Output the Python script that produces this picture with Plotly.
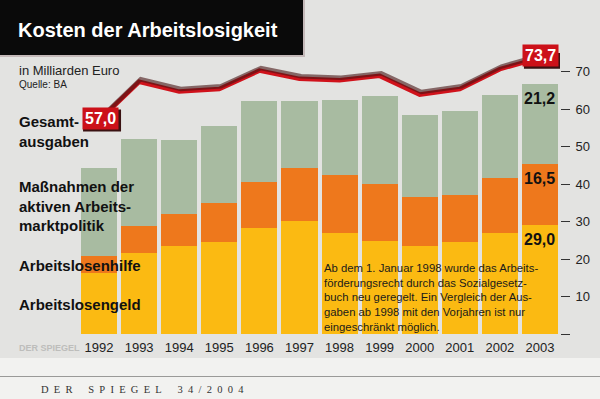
import plotly.graph_objects as go

# ---------------- data ----------------
years = [1992, 1993, 1994, 1995, 1996, 1997, 1998, 1999, 2000, 2001, 2002, 2003]
arbeitslosengeld = [16.3, 21.6, 23.4, 24.5, 28.3, 30.1, 27.0, 24.7, 23.6, 24.6, 27.0, 29.0]
arbeitslosenhilfe = [4.4, 7.1, 8.7, 10.5, 12.4, 14.2, 15.4, 15.4, 13.0, 12.6, 14.7, 16.5]
aktive_politik = [23.6, 23.3, 19.6, 20.4, 21.4, 18.0, 20.1, 23.3, 21.9, 22.2, 22.2, 21.2]
gesamtausgaben = [57.0, 67.3, 64.7, 65.4, 70.3, 68.1, 67.7, 68.9, 63.9, 65.4, 70.7, 73.7]
y_tick_vals = [0, 10, 20, 30, 40, 50, 60, 70]
y_tick_text = ["", "10", "20", "30", "40", "50", "60", "70"]

# ---------------- layout helpers ----------------
W, H = 600, 399
L, R, T, B = 79, 40, 53, 65


def px(x):
    return (x - L) / (W - L - R)


def py(y):
    return (H - B - y) / (H - T - B)


def de(v):
    return f"{v:.1f}".replace(".", ",")


YELLOW = "#FBBA12"
ORANGE = "#EE781C"
GREEN = "#A8BBA1"
RED = "#D0121B"
BG = "#E3E3E1"
SANS = "Liberation Sans, Arial, sans-serif"

fig = go.Figure()
fig.add_bar(x=years, y=arbeitslosengeld, marker=dict(color=YELLOW, line=dict(width=0)),
            name="Arbeitslosengeld")
fig.add_bar(x=years, y=arbeitslosenhilfe, marker=dict(color=ORANGE, line=dict(width=0)),
            name="Arbeitslosenhilfe")
fig.add_bar(x=years, y=aktive_politik, marker=dict(color=GREEN, line=dict(width=0)),
            name="Maßnahmen der aktiven Arbeitsmarktpolitik")
# shadow of the total line (drawn on slightly shifted overlay axes)
fig.add_scatter(x=years, y=gesamtausgaben, xaxis="x2", yaxis="y2", mode="lines",
                line=dict(color="rgba(70,20,20,0.6)", width=4.5), hoverinfo="skip")
fig.add_scatter(x=years, y=gesamtausgaben, mode="lines",
                line=dict(color=RED, width=4.5), name="Gesamtausgaben")

ann = []
shapes = []
# red value boxes on the total line (shadow as pixel-sized shape anchored at the point)
for i in (0, len(years) - 1):
    shapes.append(dict(type="rect", xref="x", yref="y", xsizemode="pixel", ysizemode="pixel",
                       xanchor=years[i], yanchor=gesamtausgaben[i],
                       x0=-16, x1=22, y0=-11, y1=11,
                       fillcolor="#3a1212", line=dict(width=0), layer="above"))
    ann.append(dict(x=years[i], y=gesamtausgaben[i], text=f"<b>{de(gesamtausgaben[i])}</b>",
                    showarrow=False, xanchor="center", yanchor="middle", xshift=1, yshift=2,
                    bgcolor="#CC1119", font=dict(color="white", size=16, family=SANS),
                    borderpad=2))

# segment values for 2003
j = len(years) - 1
tops = [arbeitslosengeld[j],
        arbeitslosengeld[j] + arbeitslosenhilfe[j],
        arbeitslosengeld[j] + arbeitslosenhilfe[j] + aktive_politik[j]]
vals = [arbeitslosengeld[j], arbeitslosenhilfe[j], aktive_politik[j]]
for top, v in zip(tops, vals):
    ann.append(dict(x=years[j], y=top, text=f"<b>{de(v)}</b>", showarrow=False,
                    xanchor="right", yanchor="top", xshift=17, yshift=-4,
                    font=dict(color="#111", size=16, family=SANS)))

# left side category labels
left_labels = [
    ("<b>Gesamt-<br>ausgaben</b>", 131),
    ("<b>Maßnahmen der<br>aktiven Arbeits-<br>marktpolitik</b>", 206),
    ("<b>Arbeitslosenhilfe</b>", 265),
    ("<b>Arbeitslosengeld</b>", 304),
]
for txt, yy in left_labels:
    ann.append(dict(xref="paper", yref="paper", x=px(17), y=py(yy), text=txt,
                    showarrow=False, xanchor="left", yanchor="middle", align="left",
                    font=dict(color="#111", size=15, family=SANS)))

# title & subtitles
ann.append(dict(xref="paper", yref="paper", x=px(16), y=py(30), text="<b>Kosten der Arbeitslosigkeit</b>",
                showarrow=False, xanchor="left", yanchor="middle",
                font=dict(color="white", size=20, family=SANS)))
ann.append(dict(xref="paper", yref="paper", x=px(17), y=py(70), text="in Milliarden Euro",
                showarrow=False, xanchor="left", yanchor="middle",
                font=dict(color="#222", size=13, family=SANS)))
ann.append(dict(xref="paper", yref="paper", x=px(17), y=py(85), text="Quelle: BA",
                showarrow=False, xanchor="left", yanchor="middle",
                font=dict(color="#222", size=10, family=SANS)))

# footnote
ann.append(dict(xref="paper", yref="paper", x=px(322), y=py(260),
                text=("Ab dem 1. Januar 1998 wurde das Arbeits-<br>"
                      "förderungsrecht durch das Sozialgesetz-<br>"
                      "buch neu geregelt. Ein Vergleich der Aus-<br>"
                      "gaben ab 1998 mit den Vorjahren ist nur<br>"
                      "eingeschränkt möglich."),
                showarrow=False, xanchor="left", yanchor="top", align="left",
                font=dict(color="#1a1a1a", size=11.3, family=SANS)))

# watermark
ann.append(dict(xref="paper", yref="paper", x=px(17), y=py(348), text="<b>DER SPIEGEL</b>",
                showarrow=False, xanchor="left", yanchor="middle",
                font=dict(color="#BDBDBB", size=9, family=SANS)))
# footer (letter-spaced)
EN = "\u2002"
footer = (EN * 3).join(EN.join(word) for word in ["DER", "SPIEGEL", "34/2004"])
ann.append(dict(xref="paper", yref="paper", x=px(39), y=py(389), text=footer,
                showarrow=False, xanchor="left", yanchor="middle",
                font=dict(color="#333", size=10.5, family="Liberation Serif, serif")))

shapes += [
    # footer band and rule
    dict(type="rect", xref="paper", yref="paper", x0=px(0), x1=px(W), y0=py(H), y1=py(358),
         fillcolor="#F2F2F0", line=dict(width=0), layer="below"),
    dict(type="line", xref="paper", yref="paper", x0=px(0), x1=px(W), y0=py(376.5), y1=py(376.5),
         line=dict(color="#9a9a98", width=1)),
    # title box with faint shadow
    dict(type="rect", xref="paper", yref="paper", x0=px(0), x1=px(305), y0=py(57), y1=py(0),
         fillcolor="#C4B9B9", line=dict(width=0)),
    dict(type="rect", xref="paper", yref="paper", x0=px(0), x1=px(303), y0=py(55), y1=py(0),
         fillcolor="#0a0a0a", line=dict(width=0)),
]

fig.update_layout(
    width=W, height=H,
    margin=dict(l=L, r=R, t=T, b=B, pad=0, autoexpand=False),
    paper_bgcolor=BG, plot_bgcolor=BG,
    barmode="stack", bargap=0.1,
    showlegend=False,
    annotations=ann, shapes=shapes,
    xaxis=dict(range=[1991.5, 2003.5], tickvals=years, ticks="", showgrid=False,
               zeroline=False, showline=False, ticklabelstandoff=4, automargin=False,
               tickfont=dict(size=13, color="#222", family=SANS)),
    yaxis=dict(range=[0, 75], side="right", tickvals=y_tick_vals, ticktext=y_tick_text,
               ticks="outside", ticklen=9, tickwidth=1.3, tickcolor="#333",
               ticklabelstandoff=3, showgrid=False, zeroline=False, showline=False,
               automargin=False,
               tickfont=dict(size=13, color="#222", family=SANS)),
    xaxis2=dict(overlaying="x", range=[1991.5 - 0.04, 2003.5 - 0.04], visible=False),
    yaxis2=dict(overlaying="y", range=[-0.7, 74.3], visible=False),
)

fig.write_html("out.html", config={"displayModeBar": False},
               post_script="document.body.style.margin='0';document.body.style.overflow='hidden';")
